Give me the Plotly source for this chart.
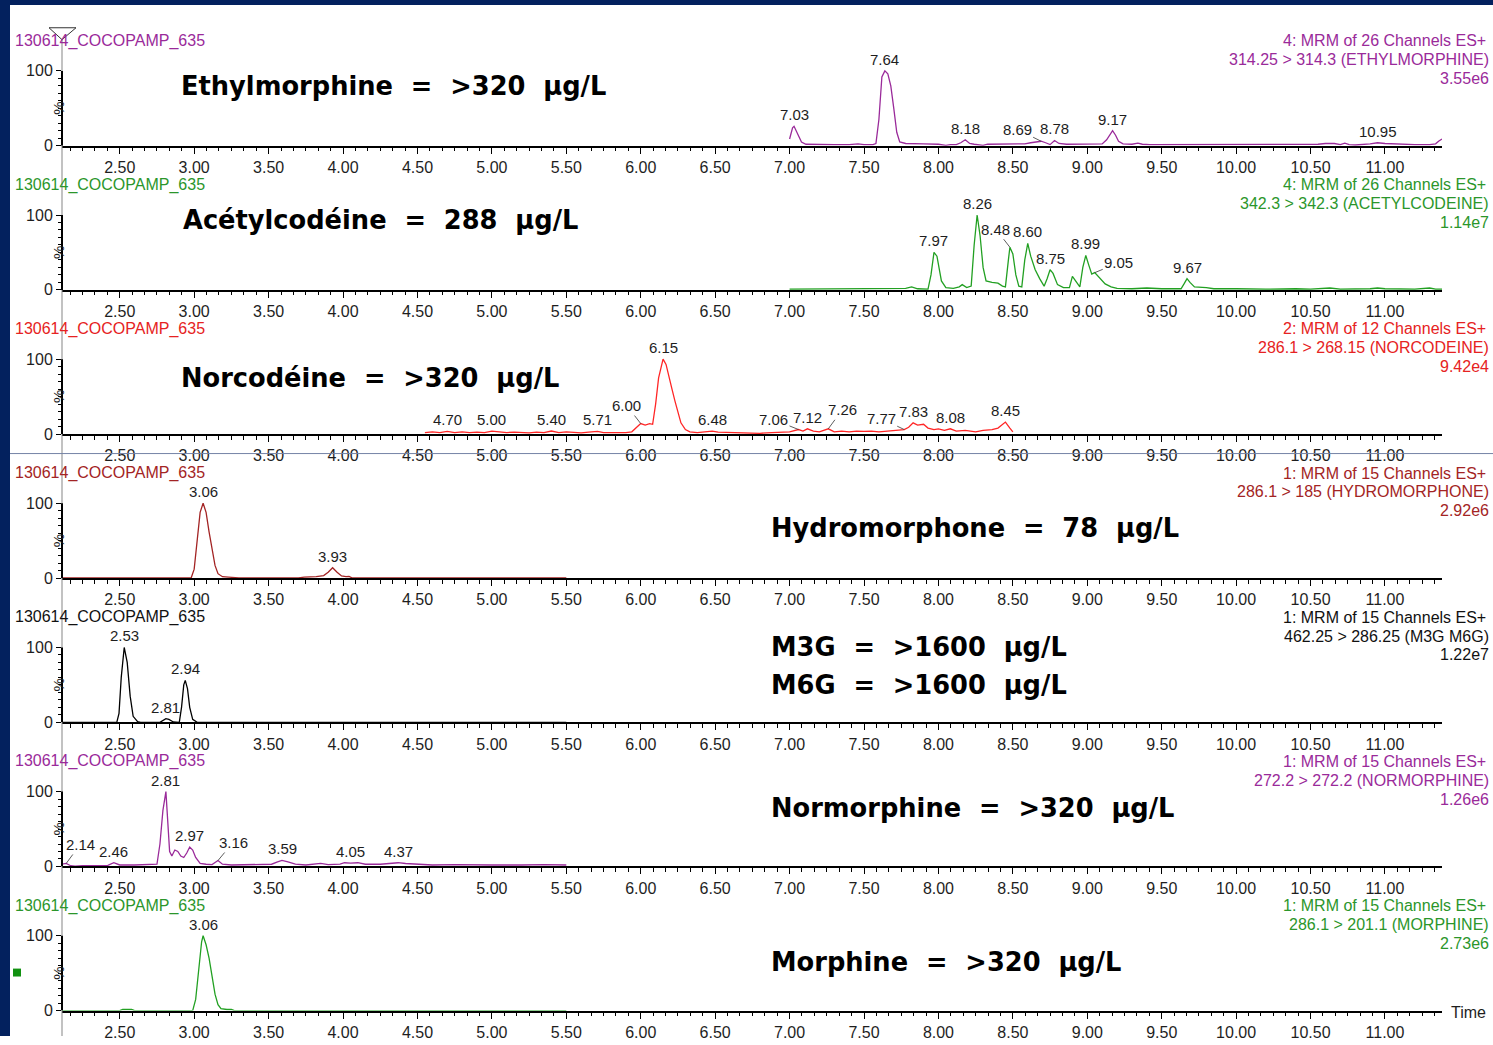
import numpy as np
import plotly.graph_objects as go

W, H = 1493, 1045

# ---------------------------------------------------------------------------
# Chromatogram data: retention time (min) and relative intensity (%)
# ---------------------------------------------------------------------------
ethyl_t = [7.00, 7.01, 7.02, 7.03, 7.04, 7.06, 7.08, 7.11, 7.20, 7.30,
           7.40, 7.44, 7.46, 7.50, 7.56, 7.58, 7.60, 7.62, 7.64, 7.66,
           7.68, 7.70, 7.72, 7.74, 7.78, 7.90, 8.00, 8.05, 8.08, 8.12,
           8.15, 8.18, 8.21, 8.24, 8.28, 8.30, 8.33, 8.40, 8.50, 8.58,
           8.62, 8.66, 8.69, 8.72, 8.75, 8.78, 8.81, 8.86, 8.95, 9.05,
           9.10, 9.13, 9.15, 9.17, 9.19, 9.21, 9.24, 9.30, 9.34, 9.37,
           9.42, 9.60, 9.70, 9.80, 10.00, 10.20, 10.25, 10.30, 10.55, 10.60,
           10.66, 10.70, 10.73, 10.76, 10.80, 10.90, 10.95, 11.00, 11.10, 11.20,
           11.30, 11.34, 11.36, 11.383]
ethyl_i = [9, 17, 24, 26, 22, 12, 5, 2, 1.5, 1.5,
           1.5, 2.5, 2.5, 1.5, 1.5, 3, 35, 92, 100, 96,
           80, 50, 18, 5, 3, 2.5, 2, 0.5, 1.5, 1.5,
           4, 8, 3, 2, 1, 0.5, 2, 2, 3, 2.5,
           4, 5, 6, 4, 1.5, 7, 3, 2, 2, 2.5,
           2.5, 8, 15, 20, 14, 6, 2.5, 2, 3.5, 2,
           1.5, 1.5, 2, 1.5, 1.5, 1.5, 2.5, 1.5, 2, 3,
           3, 1.5, 3.5, 1.5, 1, 2.5, 4, 3, 2, 1.5,
           1.5, 2.5, 6, 9]

acetyl_t = [7.00, 7.30, 7.50, 7.70, 7.78, 7.82, 7.86, 7.93, 7.95, 7.97,
            7.99, 8.02, 8.05, 8.10, 8.14, 8.16, 8.19, 8.22, 8.24, 8.26,
            8.28, 8.30, 8.32, 8.36, 8.40, 8.43, 8.45, 8.47, 8.48, 8.50,
            8.52, 8.54, 8.56, 8.58, 8.60, 8.62, 8.65, 8.68, 8.71, 8.73,
            8.75, 8.77, 8.80, 8.84, 8.88, 8.90, 8.92, 8.95, 8.97, 8.99,
            9.01, 9.03, 9.05, 9.08, 9.12, 9.16, 9.20, 9.30, 9.40, 9.50,
            9.63, 9.65, 9.67, 9.69, 9.72, 9.80, 9.85, 10.00, 10.20, 10.40,
            10.50, 10.63, 10.70, 10.90, 10.95, 11.00, 11.20, 11.30, 11.34, 11.383]
acetyl_i = [1, 1, 1.5, 1.5, 2, 4, 1.5, 1, 20, 50,
            45, 12, 3, 2, 4, 7, 3, 5, 60, 100,
            72, 30, 12, 10, 9, 5, 4, 40, 57, 48,
            20, 5, 4, 40, 62, 45, 27, 15, 5, 15,
            27, 22, 7, 3, 3, 18, 12, 4, 30, 46,
            33, 21, 23, 17, 8, 4, 2, 1.5, 2.5, 1.5,
            1.5, 8, 15, 10, 4, 3, 1.5, 1.5, 1, 1.5,
            1, 2.5, 1, 1.5, 2.5, 1.5, 1, 2.5, 1, 1]

norcod_t = [4.55, 4.60, 4.65, 4.70, 4.75, 4.80, 4.85, 4.90, 4.95, 5.00,
            5.05, 5.10, 5.15, 5.20, 5.25, 5.30, 5.35, 5.40, 5.45, 5.50,
            5.55, 5.60, 5.65, 5.71, 5.75, 5.80, 5.85, 5.90, 5.94, 5.97,
            6.00, 6.03, 6.06, 6.08, 6.10, 6.12, 6.15, 6.17, 6.19, 6.21,
            6.23, 6.25, 6.27, 6.30, 6.33, 6.38, 6.43, 6.48, 6.52, 6.58,
            6.65, 6.72, 6.80, 6.88, 6.95, 7.00, 7.06, 7.09, 7.12, 7.16,
            7.20, 7.26, 7.30, 7.35, 7.40, 7.45, 7.50, 7.55, 7.60, 7.65,
            7.70, 7.77, 7.80, 7.83, 7.86, 7.90, 7.93, 7.97, 8.00, 8.04,
            8.08, 8.12, 8.18, 8.25, 8.30, 8.36, 8.40, 8.45, 8.48, 8.50]
norcod_i = [2, 3, 2, 3.5, 2, 3, 2, 2.5, 2, 4,
            3, 2, 2.5, 2, 1.5, 2.5, 2, 4, 2, 3,
            2, 1.5, 2.5, 3.5, 2, 2, 1.5, 2, 3, 9,
            14, 12, 14, 13, 40, 75, 100, 93, 78, 60,
            44, 28, 15, 6, 3, 2, 3, 4, 2.5, 2,
            2, 1.5, 1, 2, 2.5, 3, 6, 4, 7, 4,
            3, 7, 3, 4, 3, 4, 3.5, 4, 3, 4,
            4.5, 6, 9, 15, 12, 13, 8, 6, 7, 5,
            7, 4, 5, 3, 5, 6, 8, 16, 8, 3]

hydro_t = [2.112, 2.40, 2.44, 2.47, 2.52, 2.56, 2.60, 2.98, 3.00, 3.02,
           3.04, 3.06, 3.08, 3.10, 3.12, 3.14, 3.16, 3.19, 3.23, 3.27,
           3.30, 3.70, 3.74, 3.82, 3.87, 3.90, 3.93, 3.96, 3.99, 4.02,
           4.04, 4.06, 5.50]
hydro_i = [0.5, 0.5, 1.5, 0.5, 1.5, 1.5, 0.5, 0.5, 12, 55,
           88, 100, 88, 62, 38, 17, 6, 2, 1.5, 1,
           0.5, 0.5, 1.5, 2, 3.5, 8, 14, 8, 3, 2,
           2.5, 0.5, 0.5]

m3g_t = [2.112, 2.48, 2.495, 2.51, 2.53, 2.55, 2.57, 2.59, 2.62, 2.64,
         2.77, 2.79, 2.81, 2.83, 2.86, 2.90, 2.915, 2.93, 2.94, 2.955,
         2.97, 2.99, 3.02, 5.50]
m3g_i = [0, 0, 12, 60, 100, 80, 35, 8, 1, 0,
         0, 3, 5, 4, 0.5, 0, 20, 50, 56, 45,
         20, 4, 0, 0]

normor_t = [2.112, 2.14, 2.17, 2.20, 2.25, 2.35, 2.42, 2.46, 2.50, 2.60,
            2.70, 2.75, 2.77, 2.79, 2.81, 2.82, 2.835, 2.85, 2.87, 2.89,
            2.91, 2.93, 2.95, 2.97, 2.99, 3.01, 3.04, 3.08, 3.12, 3.16,
            3.19, 3.25, 3.35, 3.45, 3.52, 3.56, 3.59, 3.63, 3.68, 3.75,
            3.80, 3.85, 3.90, 3.98, 4.01, 4.05, 4.10, 4.15, 4.25, 4.32,
            4.37, 4.42, 4.50, 4.60, 4.75, 4.85, 5.00, 5.20, 5.35, 5.50]
normor_i = [3, 4, 1, 0.5, 1, 1, 1.5, 5, 2, 2,
            2, 3, 30, 75, 100, 70, 20, 14, 22, 20,
            14, 12, 18, 26, 22, 12, 4, 3, 2.5, 8,
            3, 2, 2, 2, 3, 6, 8, 6, 3, 2,
            3, 4, 2.5, 3, 5, 4.5, 5, 3, 3, 4,
            5, 4, 3, 2, 2.5, 2, 2, 2, 2.5, 2]

morph_t = [2.112, 2.50, 2.52, 2.58, 2.60, 2.99, 3.01, 3.03, 3.05, 3.06,
           3.08, 3.10, 3.12, 3.14, 3.16, 3.18, 3.22, 3.25, 3.27, 5.50]
morph_i = [0, 0, 1.5, 1.5, 0, 0, 15, 50, 92, 100,
           88, 70, 45, 22, 8, 2.5, 1.5, 1.5, 0, 0]

# Labelled peak apexes (retention time, min)
ethyl_peaks = [7.03, 7.64, 8.18, 8.69, 8.78, 9.17, 10.95]
acetyl_peaks = [7.97, 8.26, 8.48, 8.60, 8.75, 8.99, 9.05, 9.67]
norcod_peaks = [4.70, 5.00, 5.40, 5.71, 6.00, 6.15, 6.48, 7.06, 7.12,
                7.26, 7.77, 7.83, 8.08, 8.45]
hydro_peaks = [3.06, 3.93]
m3g_peaks = [2.53, 2.81, 2.94]
normor_peaks = [2.14, 2.46, 2.81, 2.97, 3.16, 3.59, 4.05, 4.37]
morph_peaks = [3.06]

# Time axis tick labels
time_ticks = [2.50, 3.00, 3.50, 4.00, 4.50, 5.00, 5.50, 6.00, 6.50, 7.00,
              7.50, 8.00, 8.50, 9.00, 9.50, 10.00, 10.50, 11.00]

sample_name = "130614_COCOPAMP_635"

channel_info = [
    ["4: MRM of 26 Channels ES+", "314.25 > 314.3 (ETHYLMORPHINE)", "3.55e6"],
    ["4: MRM of 26 Channels ES+", "342.3 > 342.3 (ACETYLCODEINE)", "1.14e7"],
    ["2: MRM of 12 Channels ES+", "286.1 > 268.15 (NORCODEINE)", "9.42e4"],
    ["1: MRM of 15 Channels ES+", "286.1 > 185 (HYDROMORPHONE)", "2.92e6"],
    ["1: MRM of 15 Channels ES+", "462.25 > 286.25 (M3G M6G)", "1.22e7"],
    ["1: MRM of 15 Channels ES+", "272.2 > 272.2 (NORMORPHINE)", "1.26e6"],
    ["1: MRM of 15 Channels ES+", "286.1 > 201.1 (MORPHINE)", "2.73e6"],
]

results = [
    ["Ethylmorphine  =  >320  µg/L"],
    ["Acétylcodéine  =  288  µg/L"],
    ["Norcodéine  =  >320  µg/L"],
    ["Hydromorphone  =  78  µg/L"],
    ["M3G  =  >1600  µg/L", "M6G  =  >1600  µg/L"],
    ["Normorphine  =  >320  µg/L"],
    ["Morphine  =  >320  µg/L"],
]

# ---------------------------------------------------------------------------
# Styling
# ---------------------------------------------------------------------------
NAVY = "#03215e"
PURPLE = "#9a2a9a"
GREEN = "#22a022"
RED = "#ff2626"
DARKRED = "#a32424"
BLACK = "#000000"
TXT = "#1e1e1e"
SANS = "Liberation Sans, Arial, sans-serif"
BIG = "Comic Sans MS, DejaVu Sans, sans-serif"

series = [
    (ethyl_t, ethyl_i, ethyl_peaks, PURPLE, PURPLE),
    (acetyl_t, acetyl_i, acetyl_peaks, GREEN, "#2b962b"),
    (norcod_t, norcod_i, norcod_peaks, RED, "#e62222"),
    (hydro_t, hydro_i, hydro_peaks, DARKRED, DARKRED),
    (m3g_t, m3g_i, m3g_peaks, BLACK, "#111111"),
    (normor_t, normor_i, normor_peaks, PURPLE, PURPLE),
    (morph_t, morph_i, morph_peaks, GREEN, "#2b962b"),
]

# label offsets (px) for peak labels drawn with a leader line
leaders = {
    (0, 8.69): (-24, -12),
    (1, 8.48): (-14, -18),
    (1, 9.05): (24, -10),
    (2, 6.00): (-14, -18),
    (2, 7.06): (-25, -10),
    (2, 7.26): (14, -19),
    (2, 7.77): (-23, -11),
    (5, 2.14): (14, -19),
    (5, 3.16): (15, -18),
}

# result text placement (left px, centre px of first line)
result_pos = [(179, 87), (181, 222), (179, 381), (769, 533),
              (769, 653), (769, 815), (769, 970)]

X_LEFT, X_RIGHT = 62, 1442       # time axis extent in px
T_MIN, T_MAX = 2.112, 11.383     # time range
ZERO0, STEP = 147.0, 145.4       # baseline of first panel, panel pitch (px)
PX_PER_PCT = 0.755
Y_TOP = 130


def px(x):
    return x / W


def py(y):
    return 1 - y / H


fig = go.Figure()
annotations = []
shapes = []

# page frame
shapes.append(dict(type="rect", xref="paper", yref="paper", x0=0, x1=1,
                   y0=py(5), y1=1, fillcolor=NAVY, line_width=0, layer="below"))
shapes.append(dict(type="rect", xref="paper", yref="paper", x0=0, x1=px(10),
                   y0=0, y1=1, fillcolor=NAVY, line_width=0, layer="below"))

# shared vertical intensity axis line and its marker
shapes.append(dict(type="line", xref="paper", yref="paper", x0=px(62), x1=px(62),
                   y0=0, y1=py(40), line=dict(color="#858585", width=1)))
shapes.append(dict(type="path", xref="paper", yref="paper",
                   path=f"M {px(49)} {py(28)} L {px(76)} {py(28)} L {px(62)} {py(40)} Z",
                   line=dict(color="#333333", width=1), fillcolor="rgba(0,0,0,0)"))

# separator between the two acquisition groups
shapes.append(dict(type="line", xref="paper", yref="paper", x0=px(10), x1=1,
                   y0=py(457.5), y1=py(457.5), line=dict(color="#7584a6", width=1)))

# channel marker
shapes.append(dict(type="rect", xref="paper", yref="paper", x0=px(13), x1=px(21),
                   y0=py(985), y1=py(977), fillcolor="#119111", line_width=0))

layout_axes = {}
for k, (tt, ii, peaks, lcolor, tcolor) in enumerate(series):
    n = k + 1
    xa = "x" if n == 1 else f"x{n}"
    ya = "y" if n == 1 else f"y{n}"
    zero = ZERO0 + STEP * k
    top = zero - Y_TOP * PX_PER_PCT

    fig.add_trace(go.Scatter(x=tt, y=ii, mode="lines", xaxis=xa, yaxis=ya,
                             line=dict(color=lcolor, width=1.3),
                             hoverinfo="skip", showlegend=False))

    layout_axes["xaxis" if n == 1 else f"xaxis{n}"] = dict(
        domain=[px(X_LEFT), px(X_RIGHT)], range=[T_MIN, T_MAX], anchor=ya,
        showline=True, linecolor="black", linewidth=2, mirror=False,
        ticks="outside", ticklen=6, tickwidth=1, tickcolor="black",
        tickvals=time_ticks, ticktext=[f"{v:.2f}" for v in time_ticks],
        tickfont=dict(family=SANS, size=16, color=TXT),
        minor=dict(ticks="outside", ticklen=3.5, tickwidth=1, tickcolor="black",
                   dtick=0.5 / 6, tick0=2.5),
        showgrid=False, zeroline=False, fixedrange=True)

    layout_axes["yaxis" if n == 1 else f"yaxis{n}"] = dict(
        domain=[py(zero), py(top)], range=[0, Y_TOP], anchor=xa,
        showline=False, ticks="outside", ticklen=5, tickwidth=1, tickcolor="black",
        tickvals=[0, 100], ticktext=["0", "100"],
        tickfont=dict(family=SANS, size=16, color=TXT),
        minor=dict(ticks="outside", ticklen=3, tickwidth=1, tickcolor="black",
                   tickvals=[10, 20, 30, 40, 50, 60, 70, 80, 90]),
        showgrid=False, zeroline=False, fixedrange=True)

    # bold 0-100 segment of the intensity axis
    shapes.append(dict(type="line", xref="paper", yref=ya, x0=px(62), x1=px(62),
                       y0=0, y1=100, line=dict(color="black", width=2)))

    annotations.append(dict(text="%", textangle=-90, xref="paper", yref=ya,
                            x=px(48), y=50, showarrow=False,
                            font=dict(family=SANS, size=15, color=TXT)))

    # sample name (left) and channel description (right)
    yc = 41 + STEP * k
    annotations.append(dict(text=sample_name, xref="paper", yref="paper",
                            x=px(13), y=py(yc), xanchor="left", yanchor="middle",
                            showarrow=False, font=dict(family=SANS, size=16, color=tcolor)))
    for j, line in enumerate(channel_info[k]):
        annotations.append(dict(text=line, xref="paper", yref="paper",
                                x=px(1491 if j else 1488), y=py(yc + 19 * j),
                                xanchor="right", yanchor="middle", showarrow=False,
                                font=dict(family=SANS, size=16, color=tcolor)))

    # peak retention-time labels
    for t in peaks:
        apex = float(np.interp(t, tt, ii))
        lab = f"{t:.2f}"
        if (k, t) in leaders:
            dx, dy = leaders[(k, t)]
            annotations.append(dict(text=lab, x=t, y=apex, xref=xa, yref=ya,
                                    showarrow=True, arrowhead=0, arrowwidth=0.8,
                                    arrowcolor="#333333", ax=dx, ay=dy, standoff=0,
                                    font=dict(family=SANS, size=15, color=TXT)))
        else:
            annotations.append(dict(text=lab, x=t, y=apex, xref=xa, yref=ya,
                                    showarrow=False, yanchor="bottom", yshift=1,
                                    font=dict(family=SANS, size=15, color=TXT)))

    # quantitation result
    rx, ry = result_pos[k]
    for j, line in enumerate(results[k]):
        annotations.append(dict(text=f"<b>{line}</b>", xref="paper", yref="paper",
                                x=px(rx), y=py(ry + 38 * j), xanchor="left",
                                yanchor="middle", showarrow=False,
                                font=dict(family=BIG, size=25.7, color="black")))

annotations.append(dict(text="Time", xref="paper", yref="paper", x=px(1468),
                        y=py(1021), xanchor="center", yanchor="middle",
                        showarrow=False, font=dict(family=SANS, size=16, color=TXT)))

fig.update_layout(
    width=W, height=H, autosize=False,
    margin=dict(l=0, r=0, t=0, b=0),
    paper_bgcolor="white", plot_bgcolor="rgba(0,0,0,0)",
    showlegend=False, shapes=shapes, annotations=annotations,
    **layout_axes,
)

fig.write_html("out.html", config={"displayModeBar": False})
